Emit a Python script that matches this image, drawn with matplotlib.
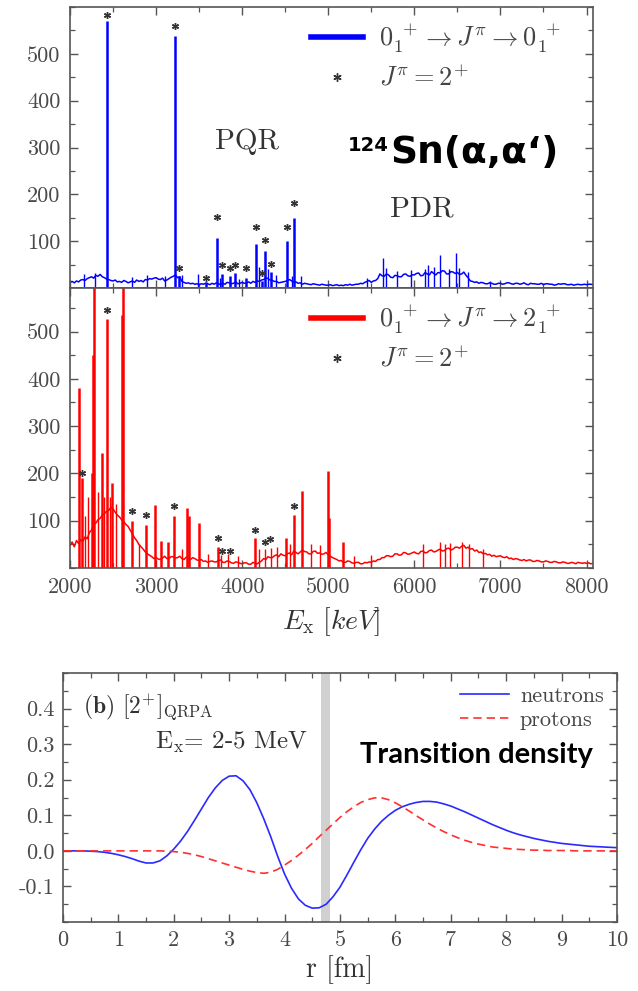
import numpy as np
import matplotlib
matplotlib.use('Agg')
import matplotlib.pyplot as plt
from matplotlib.lines import Line2D
from matplotlib.ticker import MultipleLocator, FixedLocator, FormatStrFormatter

plt.rcParams['font.family'] = ['cmr10', 'DejaVu Serif']
plt.rcParams['mathtext.fontset'] = 'cm'
plt.rcParams['axes.unicode_minus'] = False
plt.rcParams['axes.formatter.use_mathtext'] = False

# ---------------- data: spectra (25 keV bins) ----------------
E_BINS = np.arange(2000, 8076, 25)

BLUE_BASE = [
    12, 14, 11, 15, 13, 17, 18, 16, 20, 22, 24, 21, 27, 25, 29, 24, 22, 19, 18, 16,
    15, 17, 13, 14, 12, 16, 14, 11, 13, 15, 12, 17, 14, 16, 13, 18, 17, 20, 19, 21,
    22, 19, 18, 21, 15, 17, 20, 23, 25, 28, 22, 24, 14, 12, 10, 11, 9, 10, 8, 9,
    7, 9, 8, 10, 9, 7, 10, 8, 11, 9, 7, 10, 8, 12, 11, 9, 10, 13, 9, 10,
    12, 10, 11, 13, 10, 14, 12, 15, 14, 17, 18, 22, 20, 17, 16, 14, 14, 11, 12, 13,
    14, 16, 18, 15, 12, 13, 10, 11, 8, 10, 9, 8, 7, 9, 8, 7, 6, 8, 7, 6,
    6, 7, 5, 6, 7, 5, 6, 5, 7, 6, 8, 6, 7, 8, 8, 10, 9, 12, 14, 16,
    12, 15, 16, 20, 30, 26, 25, 30, 28, 23, 22, 27, 26, 24, 24, 29, 30, 26, 25, 28,
    28, 31, 32, 26, 27, 33, 30, 28, 35, 31, 28, 33, 32, 37, 36, 30, 30, 35, 34, 31,
    33, 29, 30, 34, 27, 22, 15, 14, 12, 13, 10, 12, 11, 9, 9, 11, 10, 8, 8, 10,
    10, 8, 9, 11, 11, 9, 8, 10, 10, 8, 9, 11, 8, 7, 10, 9, 9, 8, 8, 10,
    7, 9, 9, 8, 8, 6, 7, 9, 8, 9, 9, 7, 7, 8, 6, 7, 8, 7, 7, 8,
    7, 8, 8, 7]

BLUE_PEAK_E = [2430, 3221, 3270, 3582, 3710, 3770, 3860, 3920, 4047, 4163, 4230,
               4268, 4337, 4524, 4605]
BLUE_PEAK_H = [570, 538, 25, 12, 106, 30, 25, 32, 22, 93, 15, 80, 35, 100, 149]
BLUE_MINOR_E = [2160, 2290, 2720, 2900, 3100, 3300, 3490, 3745, 3960, 4195, 4300,
                4390, 4580, 4680, 5450, 5640, 5670, 5800, 5960, 6120, 6160, 6230,
                6300, 6400, 6480, 6520, 6620, 6880]
BLUE_MINOR_H = [30, 32, 24, 28, 26, 28, 30, 22, 20, 45, 40, 28, 25, 25, 22, 64,
                42, 36, 38, 40, 50, 44, 70, 40, 75, 42, 34, 14]
BLUE_STAR_E = [2430, 3221, 3270, 3582, 3710, 3770, 3860, 3920, 4047, 4163, 4230,
               4268, 4337, 4524, 4605]
BLUE_STAR_Y = [582, 560, 42, 21, 151, 49, 43, 49, 43, 130, 31, 102, 51, 130, 181]

RED_BASE = [
    48, 55, 45, 58, 52, 60, 56, 66, 62, 75, 80, 92, 95, 102, 105, 112, 115, 120, 122, 128,
    125, 118, 112, 108, 102, 98, 92, 88, 80, 72, 64, 58, 50, 45, 40, 34, 30, 27, 24, 20,
    22, 19, 18, 21, 25, 20, 20, 24, 24, 21, 22, 25, 20, 18, 23, 20, 18, 22, 20, 17,
    16, 18, 14, 15, 12, 14, 15, 13, 13, 16, 17, 12, 12, 15, 14, 11, 10, 13, 12, 10,
    9, 11, 11, 8, 8, 12, 10, 9, 12, 15, 20, 18, 24, 22, 22, 26, 28, 24, 30, 27,
    26, 30, 32, 28, 36, 33, 30, 34, 38, 35, 34, 30, 30, 35, 36, 31, 32, 29, 30, 33,
    28, 25, 22, 20, 18, 15, 16, 12, 12, 15, 14, 11, 10, 12, 12, 9, 9, 12, 11, 13,
    12, 15, 14, 18, 18, 22, 22, 26, 26, 24, 25, 30, 30, 27, 28, 33, 32, 29, 30, 32,
    34, 31, 30, 35, 36, 32, 33, 37, 38, 34, 35, 38, 40, 36, 37, 41, 42, 38, 40, 44,
    44, 42, 46, 48, 42, 44, 40, 41, 36, 38, 33, 34, 30, 31, 28, 29, 25, 27, 24, 25,
    26, 23, 22, 24, 20, 21, 18, 20, 19, 17, 16, 18, 15, 17, 17, 14, 14, 16, 15, 13,
    13, 15, 14, 12, 12, 14, 13, 11, 11, 13, 12, 10, 10, 12, 11, 9, 12, 11, 10, 11,
    10, 11, 9, 10]

RED_PEAK_E = [2105, 2140, 2250, 2270, 2282, 2370, 2430, 2490, 2600, 2612, 2720,
              2884, 2990, 3058, 3140, 3210, 3360, 3385, 3500, 3725, 4151, 4512,
              4605, 4698, 5000, 5008, 5175]
RED_PEAK_H = [380, 190, 200, 450, 650, 243, 527, 180, 534, 650, 100,
              92, 134, 58, 54, 110, 127, 110, 96, 45, 64, 64,
              113, 162, 205, 106, 54]
RED_MINOR_E = [2170, 2210, 2330, 2400, 2460, 2540, 2800, 3300, 3600, 3760, 3840,
               3950, 4200, 4270, 4330, 4400, 4560, 4800, 4900, 5300, 5500, 6100,
               6300, 6360, 6420, 6550, 6640, 6800]
RED_MINOR_H = [110, 150, 160, 150, 150, 135, 50, 40, 30, 28, 30, 25, 40, 40, 42,
               45, 50, 50, 48, 25, 28, 50, 54, 50, 52, 55, 50, 40]
RED_STAR_E = [2140, 2430, 2720, 2884, 3210, 3722, 3764, 3860, 4151, 4268, 4326, 4605]
RED_STAR_Y = [200, 545, 120, 113, 131, 64, 37, 37, 81, 54, 61, 131]

X_TICKS = [2000, 3000, 4000, 5000, 6000, 7000, 8000]
Y_TICKS = [100, 200, 300, 400, 500]

# ---------------- data: transition densities (0.125 fm grid) ----------------
R_FM = np.arange(0, 10.001, 0.125)
NEUTRONS = [
    0.000, 0.000, 0.000, 0.000, -0.001, -0.002, -0.004, -0.007,
    -0.011, -0.016, -0.022, -0.029, -0.034, -0.034, -0.028, -0.014,
    0.005, 0.028, 0.055, 0.086, 0.118, 0.150, 0.177, 0.198,
    0.210, 0.211, 0.197, 0.172, 0.135, 0.090, 0.040, -0.015,
    -0.065, -0.105, -0.135, -0.153, -0.161, -0.160, -0.150, -0.129,
    -0.102, -0.068, -0.032, 0.003, 0.035, 0.061, 0.083, 0.100,
    0.114, 0.124, 0.131, 0.136, 0.139, 0.139, 0.137, 0.132,
    0.126, 0.118, 0.110, 0.101, 0.092, 0.083, 0.074, 0.066,
    0.058, 0.051, 0.045, 0.040, 0.035, 0.031, 0.027, 0.024,
    0.021, 0.019, 0.017, 0.015, 0.013, 0.012, 0.011, 0.010,
    0.009]
PROTONS = [
    0.000, 0.000, 0.000, 0.000, 0.000, 0.000, 0.000, 0.000,
    0.000, 0.000, 0.000, 0.000, 0.000, 0.000, 0.000, -0.001,
    -0.002, -0.004, -0.007, -0.011, -0.016, -0.022, -0.028, -0.034,
    -0.040, -0.046, -0.052, -0.057, -0.061, -0.063, -0.060, -0.052,
    -0.040, -0.027, -0.012, 0.004, 0.021, 0.040, 0.058, 0.076,
    0.094, 0.110, 0.124, 0.136, 0.144, 0.149, 0.149, 0.144,
    0.135, 0.124, 0.112, 0.099, 0.087, 0.075, 0.064, 0.054,
    0.045, 0.037, 0.030, 0.024, 0.019, 0.015, 0.011, 0.009,
    0.007, 0.005, 0.004, 0.003, 0.002, 0.002, 0.001, 0.001,
    0.001, 0.001, 0.000, 0.000, 0.000, 0.000, 0.000, 0.000,
    0.000]
BAND_R = (4.65, 4.82)

# ---------------- figure ----------------
fig = plt.figure(figsize=(6.38, 9.91), dpi=100)
ax1 = fig.add_axes([0.1097, 0.7094, 0.8197, 0.2835])
ax2 = fig.add_axes([0.1097, 0.4268, 0.8197, 0.2826])
ax3 = fig.add_axes([0.0987, 0.0696, 0.8683, 0.2513])

SPINE = '#555555'
LABC = '#4a4a4a'
STARC = '#333333'
star_marker = (6, 2, 0)
TITLE_SANS = ['DejaVu Sans']
NOTE_SANS = ['Lato', 'DejaVu Sans']

def style(ax, labelsize=16):
    for s in ax.spines.values():
        s.set_color(SPINE)
        s.set_linewidth(1.2)
    ax.tick_params(which='both', direction='in', top=True, right=True,
                   color=SPINE, labelcolor=LABC, labelsize=labelsize)
    ax.tick_params(which='major', length=6, width=1.0, pad=7)
    ax.tick_params(which='minor', length=3.5, width=0.9)

for ax, base, pe, ph, me, mh, se, sy, col in [
        (ax1, BLUE_BASE, BLUE_PEAK_E, BLUE_PEAK_H, BLUE_MINOR_E, BLUE_MINOR_H,
         BLUE_STAR_E, BLUE_STAR_Y, '#0000ff'),
        (ax2, RED_BASE, RED_PEAK_E, RED_PEAK_H, RED_MINOR_E, RED_MINOR_H,
         RED_STAR_E, RED_STAR_Y, '#ff0000')]:
    ax.plot(E_BINS, base, color=col, lw=1.1)
    ax.vlines(me, 0, mh, color=col, lw=1.0)
    ax.vlines(pe, 0, ph, color=col, lw=1.8)
    ax.plot(se, sy, ls='none', marker=star_marker, ms=5, mew=1.0, color=STARC)
    ax.set_xlim(2000, 8075)
    ax.xaxis.set_major_locator(FixedLocator(X_TICKS))
    ax.xaxis.set_minor_locator(MultipleLocator(500))
    ax.yaxis.set_major_locator(FixedLocator(Y_TICKS))
    ax.yaxis.set_minor_locator(MultipleLocator(50))
    style(ax)

ax1.set_ylim(0, 600)
ax2.set_ylim(0, 592)
ax1.tick_params(labelbottom=False)

leg_kw = dict(loc='upper left', frameon=False, fontsize=19, handlelength=2.0,
              handletextpad=0.6, labelspacing=0.4, borderaxespad=0.0,
              labelcolor='#444444')
h1 = [Line2D([], [], color='#0000ff', lw=4),
      Line2D([], [], ls='none', marker=star_marker, ms=6, color=STARC)]
ax1.legend(h1, [r'$0_1^{\ +}\rightarrow J^{\pi}\rightarrow 0_1^{\ +}$', r'$J^{\pi}=2^{+}$'],
           bbox_to_anchor=(0.44, 0.985), **leg_kw)
h2 = [Line2D([], [], color='#ff0000', lw=4),
      Line2D([], [], ls='none', marker=star_marker, ms=6, color=STARC)]
ax2.legend(h2, [r'$0_1^{\ +}\rightarrow J^{\pi}\rightarrow 2_1^{\ +}$', r'$J^{\pi}=2^{+}$'],
           bbox_to_anchor=(0.44, 0.985), **leg_kw)

ax1.text(0.338, 0.52, 'PQR', transform=ax1.transAxes, ha='center', va='center',
         fontsize=21, color='#333333')
ax1.text(0.673, 0.28, 'PDR', transform=ax1.transAxes, ha='center', va='center',
         fontsize=21, color='#333333')

fig.text(390 / 638, 1 - 163 / 991, 'Sn(α,α‘)', ha='left', va='baseline',
         fontsize=27, fontweight='bold', family=TITLE_SANS, color='black')
fig.text(389 / 638, 1 - 136 / 991, '124', ha='right', va='top', fontsize=14,
         fontweight='bold', family=TITLE_SANS, color='black')

ax2.set_xlabel(r'$E_{\rm x}\ [keV]$', fontsize=20, color='#333333', labelpad=6)

# ---------------- panel (b) ----------------
ax3.axvspan(BAND_R[0], BAND_R[1], color='#d0d0d0', lw=0, zorder=0)
ax3.plot(R_FM, NEUTRONS, color='#2a2aff', lw=1.2, label='neutrons')
ax3.plot(R_FM, PROTONS, color='#ff3030', lw=1.2, ls=(0, (5, 3)), label='protons')
ax3.set_xlim(0, 10)
ax3.set_ylim(-0.2, 0.5)
ax3.xaxis.set_major_locator(MultipleLocator(1))
ax3.xaxis.set_minor_locator(MultipleLocator(0.5))
ax3.yaxis.set_major_locator(FixedLocator([-0.1, 0.0, 0.1, 0.2, 0.3, 0.4]))
ax3.yaxis.set_minor_locator(MultipleLocator(0.05))
ax3.yaxis.set_major_formatter(FormatStrFormatter('%.1f'))
style(ax3)
ax3.tick_params(which='major', pad=6)
ax3.set_xlabel('r [fm]', fontsize=20, color='#333333', labelpad=4)
ax3.legend(loc='upper right', bbox_to_anchor=(1.0, 1.0), frameon=False, fontsize=16,
           handlelength=2.2, handletextpad=0.5, labelspacing=0.2, borderaxespad=0.2,
           labelcolor='#444444')
ax3.text(0.036, 0.86, r'$\mathbf{(b)}$ $[2^{+}]_{\mathrm{QRPA}}$', transform=ax3.transAxes,
         ha='left', va='center', fontsize=17, color='#333333')
ax3.text(0.166, 0.72, r'E$_{\rm x}$= 2-5 MeV', transform=ax3.transAxes,
         ha='left', va='center', fontsize=18, color='#333333')
fig.text(360 / 638, 1 - 763 / 991, 'Transition density', ha='left', va='baseline',
         fontsize=21, fontweight='bold', family=NOTE_SANS, color='black')

fig.savefig('out.png', dpi=100)
